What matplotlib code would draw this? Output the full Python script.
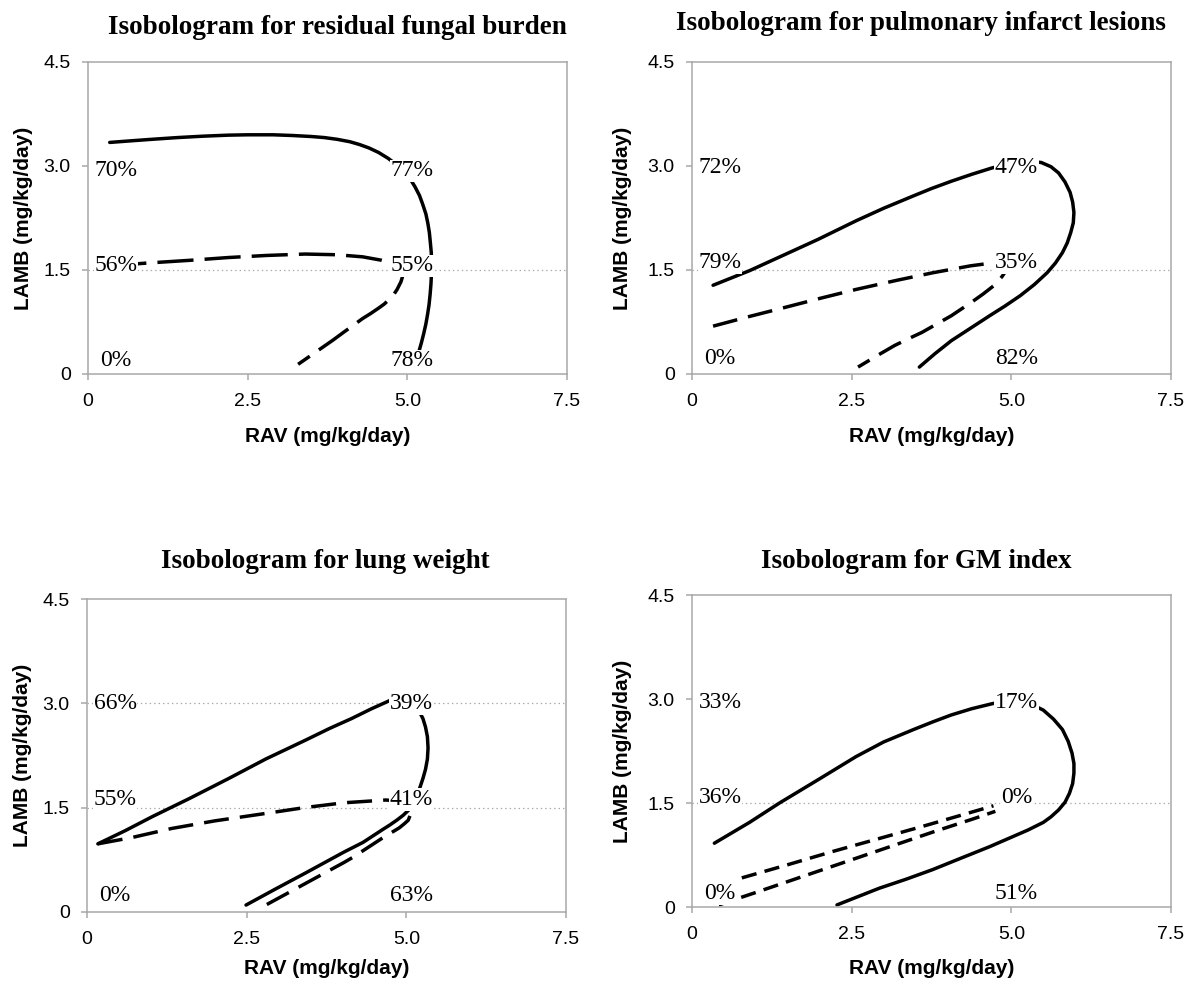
import matplotlib
matplotlib.use('Agg')
import matplotlib.pyplot as plt

plt.rcParams['lines.scale_dashes'] = False

# ---- residual fungal burden ----
fb_solid_rav = [0.34, 0.7, 1.0, 1.4, 1.8, 2.2, 2.5, 2.9, 3.2, 3.5, 3.7, 3.9, 4.1, 4.25, 4.4, 4.55, 4.7, 4.83,
                4.95, 5.04, 5.12, 5.19, 5.24, 5.29, 5.32, 5.345, 5.36, 5.375, 5.38, 5.378, 5.37, 5.357, 5.34,
                5.317, 5.29, 5.257, 5.22, 5.18]
fb_solid_lamb = [3.34, 3.365, 3.385, 3.41, 3.43, 3.445, 3.45, 3.45, 3.44, 3.425, 3.41, 3.385, 3.35, 3.31, 3.26,
                 3.195, 3.11, 3.02, 2.92, 2.82, 2.70, 2.575, 2.45, 2.31, 2.18, 2.04, 1.90, 1.75, 1.60, 1.45, 1.30,
                 1.15, 1.00, 0.86, 0.72, 0.585, 0.45, 0.32]
fb_dash_rav = [0.35, 0.92, 1.6, 2.2, 2.8, 3.4, 3.9, 4.3, 4.6, 4.72, 4.82, 4.89, 4.92, 4.92, 4.9, 4.84, 4.79, 4.72,
               4.64, 4.55, 4.43, 4.3, 4.15, 4.0, 3.83, 3.65, 3.47, 3.29]
fb_dash_lamb = [1.56, 1.60, 1.64, 1.68, 1.71, 1.73, 1.72, 1.69, 1.64, 1.61, 1.56, 1.50, 1.44, 1.39, 1.33, 1.22,
                1.15, 1.08, 1.01, 0.95, 0.875, 0.80, 0.70, 0.60, 0.485, 0.37, 0.255, 0.14]
fb_labels = ['70%', '56%', '0%', '77%', '55%', '78%']
fb_label_y = [2.93, 1.56, 0.19, 2.93, 1.56, 0.19]

# ---- pulmonary infarct lesions ----
pi_solid_rav = [0.33, 0.9, 1.4, 1.97, 2.57, 3.0, 3.47, 3.75, 4.06, 4.38, 4.69, 4.9, 5.1, 5.3, 5.47, 5.62, 5.74,
                5.84, 5.92, 5.96, 5.98, 5.97, 5.93, 5.875, 5.80, 5.69, 5.56, 5.36, 5.14, 4.9, 4.66, 4.36, 4.06,
                3.8, 3.56]
pi_solid_lamb = [1.28, 1.49, 1.70, 1.94, 2.21, 2.39, 2.57, 2.675, 2.78, 2.88, 2.97, 3.02, 3.06, 3.07, 3.05, 2.99,
                 2.90, 2.77, 2.62, 2.48, 2.33, 2.18, 2.04, 1.89, 1.75, 1.60, 1.46, 1.29, 1.13, 0.98, 0.84, 0.66,
                 0.48, 0.29, 0.10]
pi_dash_rav = [0.33, 0.9, 1.37, 2.0, 2.57, 3.2, 3.77, 4.36, 4.69, 4.82, 4.9, 4.92, 4.91, 4.85, 4.72, 4.56, 4.4,
               4.23, 4.06, 3.83, 3.6, 3.38, 3.17, 2.88, 2.6]
pi_dash_lamb = [0.69, 0.83, 0.94, 1.09, 1.22, 1.35, 1.46, 1.56, 1.60, 1.60, 1.56, 1.52, 1.48, 1.40, 1.27, 1.155,
                1.05, 0.945, 0.84, 0.72, 0.60, 0.505, 0.41, 0.255, 0.10]
pi_labels = ['72%', '79%', '0%', '47%', '35%', '82%']
pi_label_y = [2.98, 1.61, 0.22, 2.98, 1.61, 0.22]

# ---- lung weight ----
lw_solid_rav = [0.17, 0.6, 1.02, 1.6, 2.22, 2.8, 3.42, 3.8, 4.14, 4.45, 4.74, 4.85, 4.95, 5.06, 5.15, 5.21, 5.26,
                5.30, 5.33, 5.34, 5.33, 5.30, 5.26, 5.22, 5.18, 5.14, 5.10, 5.03, 4.95, 4.85, 4.74, 4.62, 4.47,
                4.32, 4.17, 4.02, 3.72, 3.42, 2.95, 2.49]
lw_solid_lamb = [0.98, 1.17, 1.37, 1.63, 1.92, 2.20, 2.47, 2.64, 2.78, 2.92, 3.04, 3.06, 3.05, 3.01, 2.95, 2.87,
                 2.78, 2.66, 2.52, 2.36, 2.20, 2.05, 1.92, 1.81, 1.70, 1.62, 1.55, 1.46, 1.39, 1.32, 1.25, 1.18,
                 1.09, 1.00, 0.93, 0.86, 0.71, 0.56, 0.33, 0.10]
lw_dash_rav = [0.17, 0.7, 1.32, 2.0, 2.82, 3.4, 4.02, 4.68, 4.82, 4.95, 5.03, 5.06, 5.06, 5.03, 4.97, 4.89, 4.80,
               4.62, 4.47, 4.32, 4.17, 4.02, 3.72, 3.42, 3.1, 2.76]
lw_dash_lamb = [0.98, 1.07, 1.20, 1.31, 1.42, 1.50, 1.57, 1.61, 1.60, 1.56, 1.51, 1.45, 1.39, 1.32, 1.27, 1.21,
                1.16, 1.06, 0.97, 0.88, 0.79, 0.71, 0.56, 0.41, 0.25, 0.08]
lw_labels = ['66%', '55%', '0%', '39%', '41%', '63%']
lw_label_y = [3.0, 1.62, 0.24, 3.0, 1.62, 0.24]

# ---- GM index ----
gm_solid_rav = [0.35, 0.9, 1.37, 2.0, 2.57, 3.0, 3.47, 3.77, 4.06, 4.38, 4.69, 4.9, 5.1, 5.3, 5.50, 5.66, 5.80,
                5.89, 5.95, 5.98, 5.98, 5.96, 5.91, 5.84, 5.74, 5.62, 5.50, 5.26, 4.96, 4.66, 4.2, 3.77, 3.35,
                2.93, 2.6, 2.27]
gm_solid_lamb = [0.92, 1.22, 1.50, 1.85, 2.17, 2.38, 2.56, 2.67, 2.77, 2.86, 2.93, 2.97, 2.97, 2.93, 2.84, 2.71,
                 2.56, 2.39, 2.22, 2.07, 1.93, 1.78, 1.64, 1.51, 1.40, 1.30, 1.22, 1.11, 0.99, 0.87, 0.70, 0.54,
                 0.40, 0.27, 0.15, 0.03]
gm_dash1_rav = [0.78, 1.5, 2.2, 2.9, 3.6, 4.2, 4.72]
gm_dash1_lamb = [0.42, 0.61, 0.80, 0.98, 1.16, 1.32, 1.46]
gm_dash2_rav = [0.42, 1.0, 1.7, 2.4, 3.1, 3.8, 4.4, 4.75]
gm_dash2_lamb = [0.03, 0.21, 0.43, 0.65, 0.87, 1.09, 1.27, 1.38]
gm_labels = ['33%', '36%', '0%', '17%', '0%', '51%']
gm_label_y = [2.95, 1.58, 0.19, 2.95, 1.58, 0.19]

label_x = [0.44, 0.44, 0.44, 5.08, 5.08, 5.08]

fig = plt.figure(figsize=(11.87, 9.81), dpi=100)

W, H = 1187.0, 981.0


def make_axes(left, top, right, bottom):
    return fig.add_axes([left / W, 1 - bottom / H, (right - left) / W, (bottom - top) / H])


def draw_panel(ax, curves, labels, label_y, grid_y, ylab_dx, xlab_dy):
    for y in grid_y:
        ax.axhline(y, color='#a8a8a8', lw=0.9, ls=(0, (1.0, 2.2)), zorder=1)
    for rav, lamb, style in curves:
        ax.plot(rav, lamb, color='black', lw=2.5, ls=style,
                solid_capstyle='round', solid_joinstyle='round',
                dash_joinstyle='round', zorder=2)
    for txt, x, y in zip(labels, label_x, label_y):
        ax.text(x, y, txt, ha='center', va='center', fontsize=17,
                family='Liberation Serif', zorder=3,
                bbox=dict(facecolor='white', edgecolor='none', pad=0.5))
    ax.set_xlim(0, 7.5)
    ax.set_ylim(0, 4.5)
    ax.set_xticks([0, 2.5, 5.0, 7.5])
    ax.set_xticklabels(['0', '2.5', '5.0', '7.5'])
    ax.set_yticks([0, 1.5, 3.0, 4.5])
    ax.set_yticklabels(['0', '1.5', '3.0', '4.5'])
    for s in ax.spines.values():
        s.set_color('#a8a8a8')
        s.set_linewidth(1.1)
    ax.tick_params(direction='out', length=4.5, width=1.1, color='#a8a8a8',
                   labelsize=14, labelcolor='black')
    ax.tick_params(axis='x', pad=9)
    ax.tick_params(axis='y', pad=8)
    for t in ax.get_xticklabels() + ax.get_yticklabels():
        t.set_family('Liberation Sans')
    ax.set_xlabel('RAV (mg/kg/day)', fontsize=15, fontweight='bold',
                  family='Liberation Sans', va='center')
    ax.set_ylabel('LAMB (mg/kg/day)', fontsize=15, fontweight='bold',
                  family='Liberation Sans', va='center')
    ax.xaxis.set_label_coords(0.5, xlab_dy)
    ax.yaxis.set_label_coords(ylab_dx, 0.5)


ax1 = make_axes(88, 62, 567, 374)
draw_panel(ax1, [(fb_solid_rav, fb_solid_lamb, '-'), (fb_dash_rav, fb_dash_lamb, (0, (26, 8)))],
           fb_labels, fb_label_y, [1.5], -64 / 479, -(436 - 374) / 312)

ax2 = make_axes(692, 62, 1171, 374)
draw_panel(ax2, [(pi_solid_rav, pi_solid_lamb, '-'), (pi_dash_rav, pi_dash_lamb, (0, (18, 8)))],
           pi_labels, pi_label_y, [1.5], -69 / 479, -(436 - 374) / 312)

ax3 = make_axes(87, 599, 566, 912)
draw_panel(ax3, [(lw_solid_rav, lw_solid_lamb, '-'), (lw_dash_rav, lw_dash_lamb, (0, (18, 8)))],
           lw_labels, lw_label_y, [1.5, 3.0], -64 / 479, -(968 - 912) / 313)

ax4 = make_axes(692, 595, 1171, 907)
draw_panel(ax4, [(gm_solid_rav, gm_solid_lamb, '-'), (gm_dash1_rav, gm_dash1_lamb, (0, (11, 6))),
                 (gm_dash2_rav, gm_dash2_lamb, (0, (11, 6)))],
           gm_labels, gm_label_y, [1.5], -69 / 479, -(968 - 907) / 312)

title_kw = dict(ha='center', va='center', fontsize=19.5, fontweight='bold',
                family='Liberation Serif')
fig.text(337 / W, 1 - 28 / H, 'Isobologram for residual fungal burden', **title_kw)
fig.text(921 / W, 1 - 23 / H, 'Isobologram for pulmonary infarct lesions', **title_kw)
fig.text(325 / W, 1 - 561 / H, 'Isobologram for lung weight', **title_kw)
fig.text(916 / W, 1 - 561 / H, 'Isobologram for GM index', **title_kw)

fig.savefig('out.png', dpi=100, facecolor='white')
